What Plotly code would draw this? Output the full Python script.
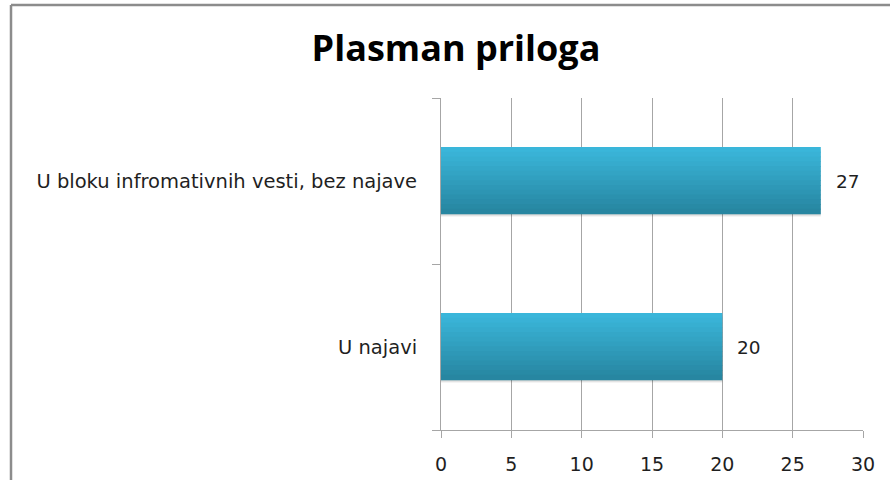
import plotly.graph_objects as go

categories = ["U najavi", "U bloku infromativnih vesti, bez najave"]
values = [20, 27]
x_ticks = [0, 5, 10, 15, 20, 25, 30]

positions = list(range(len(categories)))

# gradient colors (top -> bottom)
top_rgb = (0x3A, 0xB6, 0xDA)
bot_rgb = (0x27, 0x86, 0xA1)
N = 14
bar_w = 0.4
h = bar_w / N

FONT = "DejaVu Sans"
TXT = "#1f1f1f"

fig = go.Figure()

# soft shadow
for k, a in enumerate([0.06, 0.10]):
    fig.add_trace(go.Bar(
        x=values, y=positions, orientation="h",
        width=[bar_w] * len(values), offset=-bar_w / 2 - 0.016 + 0.008 * k,
        marker=dict(color="rgba(0,0,0,%.2f)" % a, line=dict(width=0)),
        hoverinfo="skip", showlegend=False,
    ))

for i in range(N):
    t = i / (N - 1)
    c = tuple(round(top_rgb[k] + (bot_rgb[k] - top_rgb[k]) * t) for k in range(3))
    fig.add_trace(go.Bar(
        x=values, y=positions, orientation="h",
        width=[h * 1.15] * len(values),
        offset=bar_w / 2 - (i + 1) * h,
        marker=dict(color="rgb(%d,%d,%d)" % c, line=dict(width=0)),
        hoverinfo="skip", showlegend=False,
    ))

annotations = [
    dict(x=v, y=p, xref="x", yref="y", text=str(v), showarrow=False,
         xanchor="left", yanchor="middle", xshift=13,
         font=dict(family=FONT, size=18.5, color=TXT))
    for v, p in zip(values, positions)
]

L, R, T, B = 441, 27, 98, 50
W, H = 890, 480
pw = W - L - R
ph = H - T - B

fig.update_layout(
    width=W, height=H,
    margin=dict(l=L, r=R, t=T, b=B, autoexpand=False),
    barmode="overlay",
    paper_bgcolor="white", plot_bgcolor="white",
    font=dict(family=FONT, size=18, color=TXT),
    title=dict(
        text="<b>Plasman priloga</b>",
        font=dict(family="Open Sans", size=36, color="#000000"),
        x=456 / W, xanchor="center", xref="container",
        y=1 - 48 / H, yanchor="middle", yref="container",
    ),
    xaxis=dict(
        range=[0, 30], tickvals=x_ticks, automargin=False,
        showgrid=True, gridcolor="#a6a6a6", gridwidth=1,
        showline=True, linecolor="#a6a6a6", linewidth=1,
        ticks="outside", ticklen=7, tickcolor="#a6a6a6",
        ticklabelstandoff=10, zeroline=False,
        tickfont=dict(family=FONT, size=19, color=TXT),
        fixedrange=True,
    ),
    yaxis=dict(
        range=[-0.5, 1.5], tickvals=positions, ticktext=categories,
        automargin=False,
        showgrid=False, zeroline=False,
        showline=True, linecolor="#a6a6a6", linewidth=1,
        ticks="", ticklabelstandoff=19,
        minor=dict(tickvals=[-0.5, 0.5, 1.5], ticks="outside", ticklen=8,
                   tickcolor="#a6a6a6", showgrid=False),
        tickfont=dict(family=FONT, size=19.5, color=TXT),
        fixedrange=True,
    ),
    annotations=annotations,
    shapes=[
        dict(type="line", xref="paper", yref="paper",
             x0=(11 - L) / pw, x1=(11 - L) / pw,
             y0=1 + (T - 5) / ph, y1=-(B + 10) / ph,
             line=dict(color="#8c8c8c", width=2.5)),
        dict(type="line", xref="paper", yref="paper",
             x0=(11 - L) / pw, x1=(890 - L) / pw,
             y0=1 + (T - 5) / ph, y1=1 + (T - 5) / ph,
             line=dict(color="#8c8c8c", width=2.5)),
    ],
)

fig.write_html("out.html", config={"displayModeBar": False},
               post_script="document.body.style.margin='0';")
